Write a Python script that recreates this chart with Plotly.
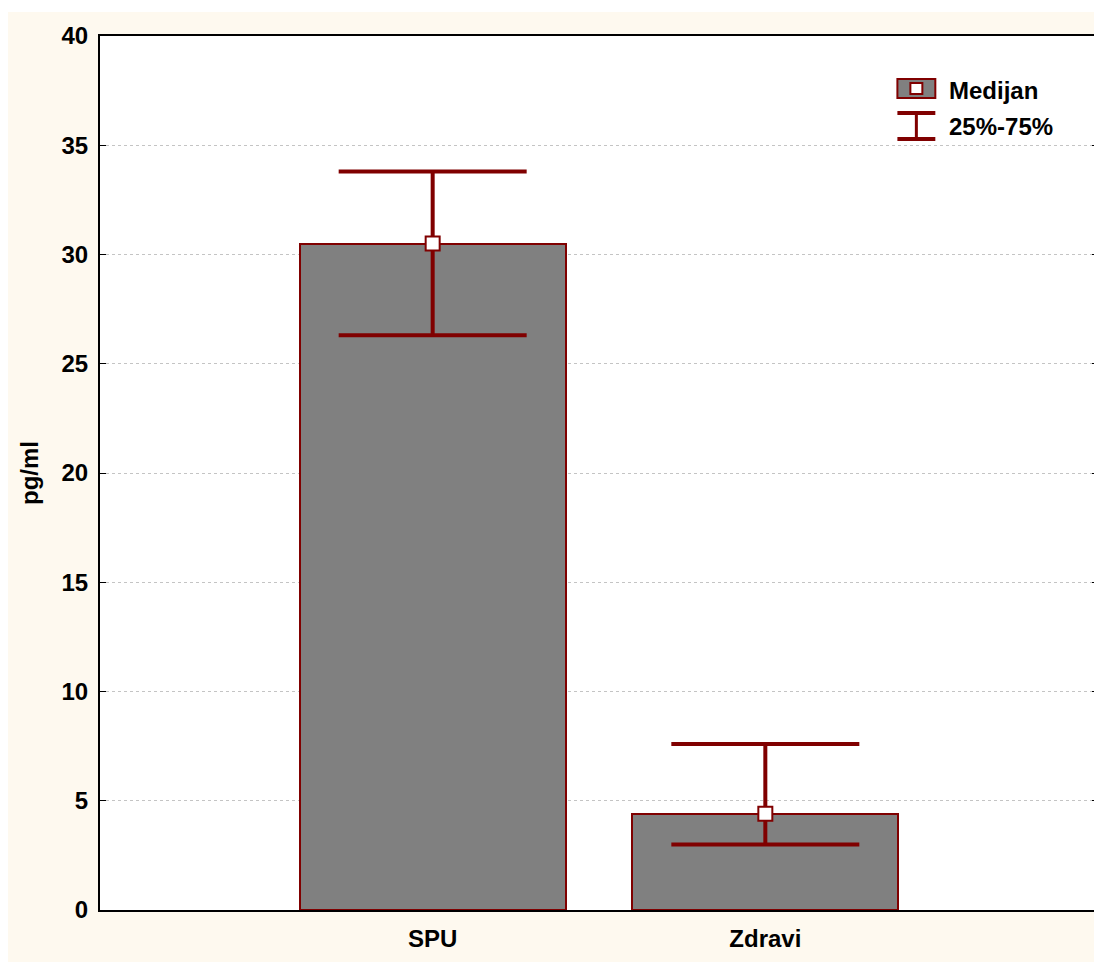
import plotly.graph_objects as go

categories = ["SPU", "Zdravi"]
medians = [30.5, 4.4]
q75 = [33.8, 7.6]
q25 = [26.3, 3.0]
y_ticks = [0, 5, 10, 15, 20, 25, 30, 35, 40]

DARK_RED = "#800000"
CREAM = "#FEF9EF"
FONT = "Liberation Sans"

OFF = 8  # page body margin
W, H = 1102 - OFF, 962 - OFF
# page coordinates of the plot area
PL, PR, PT, PB = 100, 1100, 36, 910
L, R, T, B = PL - OFF, (W + OFF) - PR, PT - OFF, (H + OFF) - PB
PW, PH = PR - PL, PB - PT

def px(x):
    return (x - PL) / PW

def py(y):
    return (PB - y) / PH

xpos = list(range(len(categories)))

fig = go.Figure()
fig.add_trace(go.Bar(
    x=xpos, y=medians, width=0.8,
    marker=dict(color="#808080", line=dict(color=DARK_RED, width=2)),
    showlegend=False, hoverinfo="skip",
))
fig.add_trace(go.Scatter(
    x=xpos, y=medians, mode="markers",
    marker=dict(symbol="square", size=14, color="white",
                line=dict(color=DARK_RED, width=2)),
    error_y=dict(type="data", symmetric=False,
                 array=[a - m for a, m in zip(q75, medians)],
                 arrayminus=[m - b for m, b in zip(medians, q25)],
                 color=DARK_RED, thickness=4, width=94),
    showlegend=False,
))

shapes = [
    # white strip at top
    dict(type="rect", xref="paper", yref="paper", x0=px(0), x1=px(1200), y0=py(0), y1=py(12),
         fillcolor="white", line=dict(width=0), layer="below"),
    # legend: median box
    dict(type="rect", xref="paper", yref="paper", x0=px(899), x1=px(937), y0=py(98), y1=py(79),
         fillcolor="#808080", line=dict(color=DARK_RED, width=2)),
    dict(type="rect", xref="paper", yref="paper", x0=px(912), x1=px(924), y0=py(94), y1=py(83),
         fillcolor="white", line=dict(color=DARK_RED, width=2)),
    # legend: error bar icon
    dict(type="line", xref="paper", yref="paper", x0=px(899), x1=px(937), y0=py(113), y1=py(113),
         line=dict(color=DARK_RED, width=4)),
    dict(type="line", xref="paper", yref="paper", x0=px(899), x1=px(937), y0=py(139), y1=py(139),
         line=dict(color=DARK_RED, width=4)),
    dict(type="line", xref="paper", yref="paper", x0=px(918), x1=px(918), y0=py(113), y1=py(139),
         line=dict(color=DARK_RED, width=3)),
]

annotations = [
    dict(text="Medijan", xref="paper", yref="paper", x=px(949), y=py(90),
         xanchor="left", yanchor="middle", showarrow=False,
         font=dict(family=FONT, size=24, color="black", weight="bold")),
    dict(text="25%-75%", xref="paper", yref="paper", x=px(949), y=py(126),
         xanchor="left", yanchor="middle", showarrow=False,
         font=dict(family=FONT, size=24, color="black", weight="bold")),
]

fig.update_layout(
    width=W, height=H,
    margin=dict(l=L, r=R, t=T, b=B, pad=0),
    paper_bgcolor=CREAM, plot_bgcolor="white",
    shapes=shapes, annotations=annotations,
    bargap=0,
    xaxis=dict(range=[-1, 2], tickvals=xpos, ticktext=categories,
               showgrid=False, zeroline=False,
               showline=True, linecolor="black", linewidth=2, mirror=True,
               ticks="", ticklabelstandoff=6,
               tickfont=dict(family=FONT, size=24, color="black", weight="bold")),
    yaxis=dict(range=[0, 40], tickvals=y_ticks,
               showgrid=True, gridcolor="#C4C4C4", griddash="dot", gridwidth=1,
               zeroline=False,
               showline=True, linecolor="black", linewidth=2, mirror="ticks",
               ticks="inside", ticklen=6, tickwidth=1, tickcolor="black",
               ticklabelstandoff=5,
               tickfont=dict(family=FONT, size=24, color="black", weight="bold"),
               title=dict(text="pg/ml", standoff=16,
                          font=dict(family=FONT, size=24, color="black", weight="bold"))),
    showlegend=False,
)

fig.write_html("out.html")
